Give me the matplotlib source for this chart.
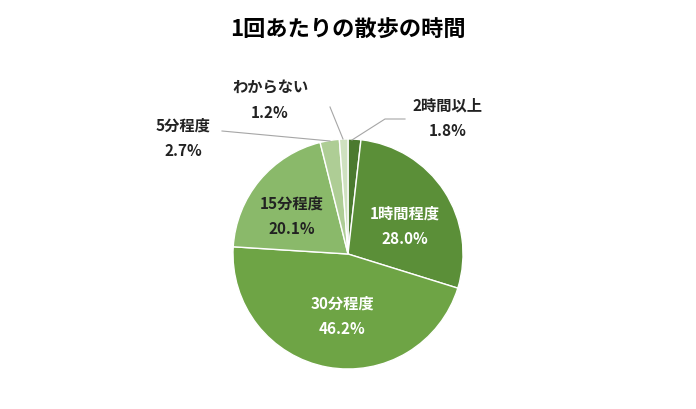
import matplotlib
matplotlib.use("Agg")
import matplotlib.pyplot as plt

plt.rcParams["font.family"] = "Noto Sans CJK JP"

labels = ["2時間以上", "1時間程度", "30分程度", "15分程度", "5分程度", "わからない"]
values = [1.8, 28.0, 46.2, 20.1, 2.7, 1.2]
colors = ["#4b7a2f", "#5b8f38", "#6ea445", "#8ab96a", "#aecd95", "#cfe1c0"]

fig = plt.figure(figsize=(6.96, 4.10), dpi=100)
fig.text(0.5, 1 - 30 / 410, "1回あたりの散歩の時間", ha="center", va="center",
         fontsize=16, fontweight="bold")

# pie: center (348,255) px, radius 115 px
ax = fig.add_axes([(348 - 115) / 696, (410 - 255 - 115) / 410, 230 / 696, 230 / 410])
ax.pie(values, colors=colors, startangle=90, counterclock=False, radius=1,
       wedgeprops=dict(edgecolor="white", linewidth=1))
ax.set_xlim(-1, 1)
ax.set_ylim(-1, 1)
ax.set_aspect("equal")


def p(px, py):
    return ((px - 348) / 115, (255 - py) / 115)


def lab(i, px, py, color):
    x, y = p(px, py)
    ax.text(x, y, f"{labels[i]}\n{values[i]:.1f}%", ha="center", va="center",
            fontsize=11, fontweight="bold", color=color, linespacing=1.7,
            clip_on=False)


lab(1, 405, 226, "white")
lab(2, 342, 316, "white")
lab(3, 292, 216, "#222222")
lab(0, 448, 118, "#222222")
lab(4, 183, 138, "#222222")
lab(5, 270, 100, "#222222")

lc = "#a6a6a6"
for pts in ([(352, 141), (385, 120), (405, 120)],
            [(330, 142), (222, 132)],
            [(343, 140), (330, 108)]):
    xs, ys = zip(*[p(a, b) for a, b in pts])
    ax.plot(xs, ys, color=lc, lw=0.8, clip_on=False)

fig.savefig("out.png", dpi=100)
